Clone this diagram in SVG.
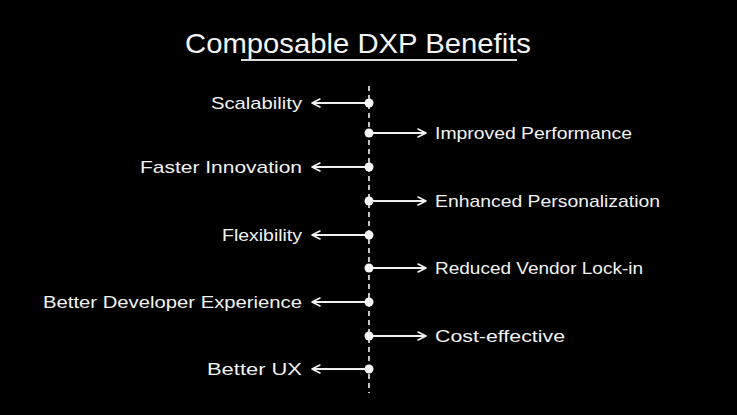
<svg xmlns="http://www.w3.org/2000/svg" width="737" height="415" viewBox="0 0 737 415">
<defs>
<marker id="chev" viewBox="0 0 10 10" refX="9" refY="5" markerWidth="10" markerHeight="10" markerUnits="userSpaceOnUse" orient="auto">
<path d="M1,1 L9,5 L1,9" fill="none" stroke="#f2f2f2" stroke-width="1.6" stroke-linecap="round" stroke-linejoin="round"/>
</marker>
</defs>
<style>
.t{font-family:"Liberation Sans",Arial,sans-serif;font-size:17px;fill:#f2f2f2}
.l{text-anchor:end}
.title{font-family:"Liberation Sans",Arial,sans-serif;font-size:28px;fill:#f5f5f5}
.c{stroke:#f2f2f2;stroke-width:1.8;fill:none}
.dot{fill:#f5f5f5}
</style>
<rect width="737" height="415" fill="#000"/>
<g id="title">
<text class="title" x="185" y="53" textLength="346" lengthAdjust="spacingAndGlyphs">Composable DXP Benefits</text>
<line x1="241" y1="60" x2="517" y2="60" stroke="#dcdcdc" stroke-width="2"/>
</g>
<g id="connectors">
<line x1="369" y1="86" x2="369" y2="393" stroke="#f2f2f2" stroke-width="1.6" stroke-dasharray="5,4"/>
<line class="c" x1="369" y1="103" x2="312" y2="103" marker-end="url(#chev)"/>
<line class="c" x1="369" y1="133" x2="426" y2="133" marker-end="url(#chev)"/>
<line class="c" x1="369" y1="167" x2="312" y2="167" marker-end="url(#chev)"/>
<line class="c" x1="369" y1="201" x2="426" y2="201" marker-end="url(#chev)"/>
<line class="c" x1="369" y1="235" x2="312" y2="235" marker-end="url(#chev)"/>
<line class="c" x1="369" y1="268" x2="426" y2="268" marker-end="url(#chev)"/>
<line class="c" x1="369" y1="302" x2="312" y2="302" marker-end="url(#chev)"/>
<line class="c" x1="369" y1="336" x2="426" y2="336" marker-end="url(#chev)"/>
<line class="c" x1="369" y1="369" x2="312" y2="369" marker-end="url(#chev)"/>
<circle class="dot" cx="369" cy="103" r="4.5"/>
<circle class="dot" cx="369" cy="133" r="4.5"/>
<circle class="dot" cx="369" cy="167" r="4.5"/>
<circle class="dot" cx="369" cy="201" r="4.5"/>
<circle class="dot" cx="369" cy="235" r="4.5"/>
<circle class="dot" cx="369" cy="268" r="4.5"/>
<circle class="dot" cx="369" cy="302" r="4.5"/>
<circle class="dot" cx="369" cy="336" r="4.5"/>
<circle class="dot" cx="369" cy="369" r="4.5"/>
</g>
<g id="scalability"><text class="t" x="211" y="109" textLength="91" lengthAdjust="spacingAndGlyphs">Scalability</text></g>
<g id="improved-performance"><text class="t" x="435" y="139" textLength="197" lengthAdjust="spacingAndGlyphs">Improved Performance</text></g>
<g id="faster-innovation"><text class="t" x="140" y="173" textLength="162" lengthAdjust="spacingAndGlyphs">Faster Innovation</text></g>
<g id="enhanced-personalization"><text class="t" x="435" y="207" textLength="225" lengthAdjust="spacingAndGlyphs">Enhanced Personalization</text></g>
<g id="flexibility"><text class="t" x="222" y="241" textLength="80" lengthAdjust="spacingAndGlyphs">Flexibility</text></g>
<g id="reduced-vendor-lock-in"><text class="t" x="435" y="274" textLength="208" lengthAdjust="spacingAndGlyphs">Reduced Vendor Lock-in</text></g>
<g id="better-developer-experience"><text class="t" x="43" y="308" textLength="259" lengthAdjust="spacingAndGlyphs">Better Developer Experience</text></g>
<g id="cost-effective"><text class="t" x="435" y="342" textLength="130" lengthAdjust="spacingAndGlyphs">Cost-effective</text></g>
<g id="better-ux"><text class="t" x="207" y="375" textLength="95" lengthAdjust="spacingAndGlyphs">Better UX</text></g>
</svg>
